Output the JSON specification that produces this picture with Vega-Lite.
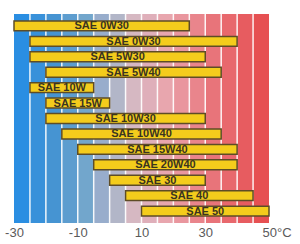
{
  "$schema": "https://vega.github.io/schema/vega-lite/v6.json",
  "width": 255,
  "height": 209,
  "autosize": {"type": "none"},
  "padding": {"left": 14, "top": 14, "right": 31, "bottom": 21},
  "background": "white",
  "config": {"view": {"stroke": null}},
  "datasets": {
    "bands": [
      {"t": -30, "t2": -25}, {"t": -25, "t2": -20}, {"t": -20, "t2": -15}, {"t": -15, "t2": -10},
      {"t": -10, "t2": -5}, {"t": -5, "t2": 0}, {"t": 0, "t2": 5}, {"t": 5, "t2": 10},
      {"t": 10, "t2": 15}, {"t": 15, "t2": 20}, {"t": 20, "t2": 25}, {"t": 25, "t2": 30},
      {"t": 30, "t2": 35}, {"t": 35, "t2": 40}, {"t": 40, "t2": 45}, {"t": 45, "t2": 50}
    ],
    "oils": [
      {"id": 1, "name": "SAE 0W30", "lo": -30, "hi": 25},
      {"id": 2, "name": "SAE 0W30", "lo": -25, "hi": 40},
      {"id": 3, "name": "SAE 5W30", "lo": -25, "hi": 30},
      {"id": 4, "name": "SAE 5W40", "lo": -20, "hi": 35},
      {"id": 5, "name": "SAE 10W", "lo": -25, "hi": -5},
      {"id": 6, "name": "SAE 15W", "lo": -20, "hi": 0},
      {"id": 7, "name": "SAE 10W30", "lo": -20, "hi": 30},
      {"id": 8, "name": "SAE 10W40", "lo": -15, "hi": 35},
      {"id": 9, "name": "SAE 15W40", "lo": -10, "hi": 40},
      {"id": 10, "name": "SAE 20W40", "lo": -5, "hi": 40},
      {"id": 11, "name": "SAE 30", "lo": 0, "hi": 30},
      {"id": 12, "name": "SAE 40", "lo": 5, "hi": 45},
      {"id": 13, "name": "SAE 50", "lo": 10, "hi": 50}
    ]
  },
  "layer": [
    {
      "data": {"name": "bands"},
      "mark": {"type": "rect", "opacity": 1},
      "encoding": {
        "x": {
          "field": "t", "type": "quantitative",
          "scale": {"domain": [-30, 50], "nice": false, "zero": false},
          "axis": {
            "values": [-30, -20, -10, 0, 10, 20, 30, 40, 50],
            "grid": false, "ticks": false, "domain": false, "title": null,
            "labelOverlap": false, "labelFlush": false,
            "labelFont": "Liberation Sans", "labelFontSize": 13, "labelColor": "#5a5a5a",
            "labelPadding": 3,
            "labelExpr": "datum.value == 50 ? '50°C' : (datum.value < 0 ? '-' + abs(datum.value) : '' + datum.value)",
            "labelAlign": {"condition": {"test": "datum.value == 50", "value": "left"}, "value": "center"},
            "labelOffset": {"condition": {"test": "datum.value == 50", "value": -7}, "value": 0}
          }
        },
        "x2": {"field": "t2"},
        "color": {
          "field": "t", "type": "quantitative", "legend": null,
          "scale": {
            "domain": [-30, -20, -10, 0, 5, 15, 30, 45],
            "range": ["#2a8ee2", "#4694d2", "#72a6cc", "#b2b6c8", "#d6b8c2", "#e8a6ae", "#e8747a", "#e65052"]
          }
        }
      }
    },
    {
      "data": {"name": "bands"},
      "transform": [{"filter": "datum.t > -30"}],
      "mark": {"type": "rule", "color": "#ffffff", "strokeWidth": 1.5, "opacity": 0.9},
      "encoding": {"x": {"field": "t", "type": "quantitative"}}
    },
    {
      "data": {"name": "oils"},
      "mark": {"type": "bar", "fill": "#f4cc1c", "stroke": "#5e4c26", "strokeWidth": 1.5, "cornerRadius": 0},
      "encoding": {
        "y": {"field": "id", "type": "ordinal", "axis": null, "scale": {"paddingInner": 0.36, "paddingOuter": 0.45}},
        "x": {"field": "lo", "type": "quantitative"},
        "x2": {"field": "hi"}
      }
    },
    {
      "data": {"name": "oils"},
      "transform": [{"calculate": "(datum.lo + datum.hi) / 2", "as": "mid"}],
      "mark": {"type": "text", "font": "Liberation Sans", "fontSize": 11, "fontWeight": "bold", "color": "#3a3420", "baseline": "middle", "align": "center", "dy": 0.5},
      "encoding": {
        "y": {"field": "id", "type": "ordinal", "axis": null},
        "x": {"field": "mid", "type": "quantitative"},
        "text": {"field": "name"}
      }
    },
    {
      "mark": {"type": "rect", "fill": null, "stroke": "#4e5460", "strokeWidth": 1},
      "encoding": {
        "x": {"datum": -30, "type": "quantitative"},
        "x2": {"datum": 50}
      }
    }
  ]
}
